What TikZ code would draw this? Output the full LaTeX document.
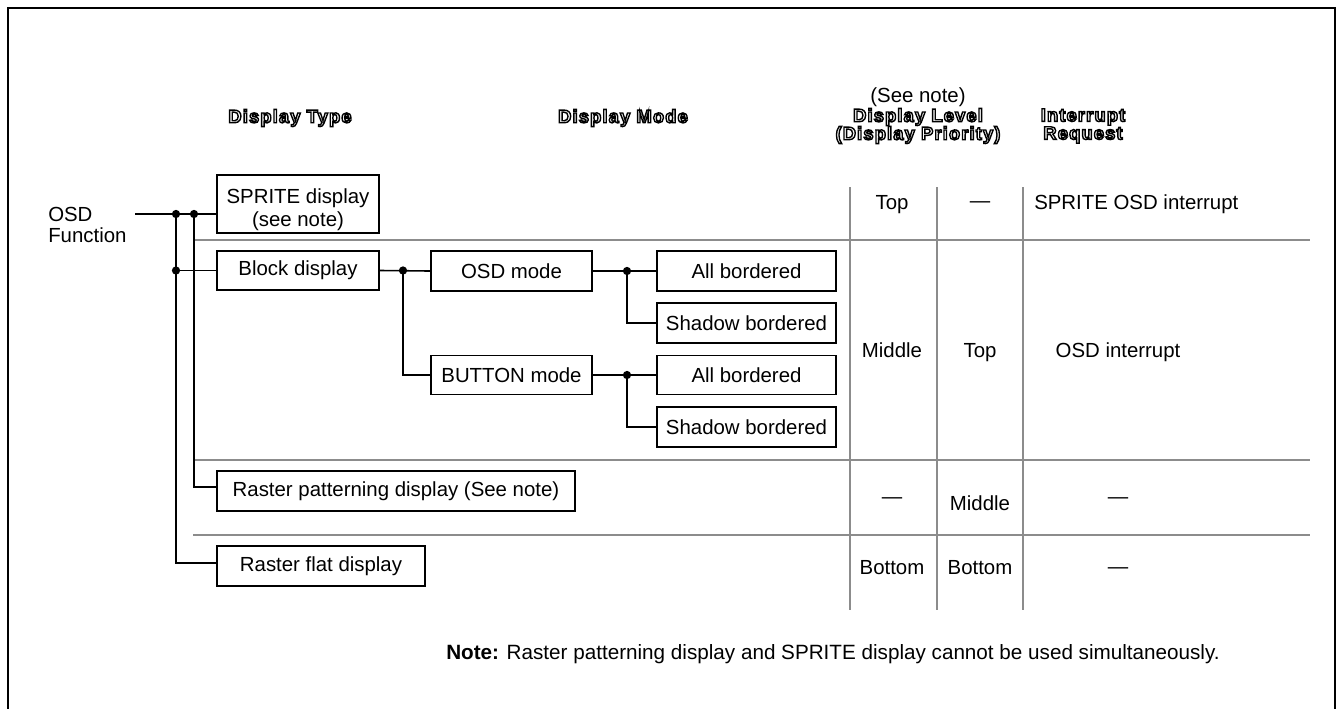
\documentclass[tikz,border=0pt]{standalone}
\usepackage{fontspec}
\setmainfont{Liberation Sans}
\newfontfamily\hdrfont[LetterSpace=6]{Liberation Sans}
\usetikzlibrary{calc}
\newcommand\fs{\fontsize{15.3}{18}\selectfont}
\newcommand\hf{\hdrfont\fontsize{13.8}{13.5}\selectfont\bfseries}
\newcommand\hollow[1]{\special{pdf:literal direct 1 Tr 1.05 w}#1\special{pdf:literal direct 0 Tr 0.4 w}}
\tikzset{
  box/.style={draw, line width=1.3pt, inner sep=0pt, align=center, font=\fs},
  conn/.style={line width=1.2pt},
  jdot/.style={circle, fill=black, inner sep=0pt, minimum size=6.2pt},
  gridline/.style={draw=black!45, line width=1.2pt},
  txt/.style={inner sep=0pt, font=\fs, text height=11pt, text depth=0pt},
  mtxt/.style={inner sep=0pt, font=\fs, align=center},
  hdr/.style={inner sep=0pt, font=\hf, align=center}
}
\begin{document}
\begin{tikzpicture}[x=0.75pt,y=-0.75pt]
\useasboundingbox (0,0) rectangle (1339,708);
% frame
\draw[line width=1.6pt] (8,716) -- (8,8) -- (1335,8) -- (1335,716);

% headers
\node[hdr] (hType) at (290,118) {\hollow{Display Type}};
\node[hdr] (hMode) at (623,118) {\hollow{Display Mode}};
\node[mtxt] (hNote) at (918,97) {(See note)};
\node[hdr] (hLevel) at (918,126) {\hollow{Display Level}\\\hollow{(Display Priority)}};
\node[hdr] (hIrq) at (1083,126) {\hollow{Interrupt}\\\hollow{Request}};

% table grid
\draw[gridline] (850,187) -- (850,610);
\draw[gridline] (937,187) -- (937,610);
\draw[gridline] (1023,187) -- (1023,610);
\draw[gridline] (193,240) -- (1310,240);
\draw[gridline] (193,460) -- (1310,460);
\draw[gridline] (193,535) -- (1310,535);

% left label
\node[mtxt, align=left, anchor=west, font=\fontsize{15.3}{15.75}\selectfont] (osdf) at (48,224.5) {OSD\\Function};

% boxes
\node[box, minimum width=121.5pt, minimum height=43.5pt] (spr) at (298,204) {\raisebox{-4.5pt}[\height][\depth]{\begin{tabular}{@{}c@{}}SPRITE display\\[-1pt](see note)\end{tabular}}};
\node[box, minimum width=121.5pt, minimum height=29.25pt] (blk) at (298,270.5) {Block display};
\node[box, minimum width=120.75pt, minimum height=30pt] (osd) at (511.5,271) {OSD mode};
\node[box, minimum width=134.25pt, minimum height=30pt] (ab1) at (746.5,271) {All bordered};
\node[box, minimum width=134.25pt, minimum height=30pt] (sb1) at (746.5,323) {Shadow bordered};
\node[box, minimum width=120.75pt, minimum height=29.25pt] (btn) at (511.5,375) {BUTTON mode};
\node[box, minimum width=134.25pt, minimum height=29.25pt] (ab2) at (746.5,375) {All bordered};
\node[box, minimum width=134.25pt, minimum height=30pt] (sb2) at (746.5,427) {Shadow bordered};
\node[box, minimum width=268.5pt, minimum height=30pt] (rp) at (396,491) {Raster patterning display (See note)};
\node[box, minimum width=156pt, minimum height=30pt] (rf) at (321,566) {Raster flat display};

% connectors
\coordinate (src) at (135,214);
\node[jdot] (d1) at (176,214) {};
\node[jdot] (d2) at (194,214) {};
\node[jdot] (d3) at (176,270.5) {};
\node[jdot] (d4) at (403,270.5) {};
\node[jdot] (d5) at (627,271) {};
\node[jdot] (d6) at (627,375) {};
\draw[conn] (src) -- (src -| spr.west);
\draw[conn] (d1.center) |- ([yshift=2.25pt]rf.west);
\draw[conn] (d2.center) |- ([yshift=3pt]rp.west);
\draw[conn] (d3.center) -- (blk.west);
\draw[conn] (blk.east) -- (osd.west);
\draw[conn] (d4.center) |- (btn.west);
\draw[conn] (osd.east) -- (ab1.west);
\draw[conn] (d5.center) |- (sb1.west);
\draw[conn] (btn.east) -- (ab2.west);
\draw[conn] (d6.center) |- (sb2.west);

% table texts
\node[txt] (t11) at (892,202) {Top};
\node[txt] (t12) at (980,200) {\textemdash};
\node[txt, anchor=west] (t13) at (1034,202) {SPRITE OSD interrupt};
\node[txt] (t21) at (892,350) {Middle};
\node[txt] (t22) at (980,350) {Top};
\node[txt] (t23) at (1118,350) {OSD interrupt};
\node[txt] (t31) at (892,496) {\textemdash};
\node[txt] (t32) at (980,503) {Middle};
\node[txt] (t33) at (1118,496) {\textemdash};
\node[txt] (t41) at (892,567) {Bottom};
\node[txt] (t42) at (980,567) {Bottom};
\node[txt] (t43) at (1118,566) {\textemdash};

% note
\node[txt, anchor=west, font=\fontsize{15.5}{18}\selectfont] (note) at (446,652) {\textbf{Note:} Raster patterning display and SPRITE display cannot be used simultaneously.};
\end{tikzpicture}
\end{document}
